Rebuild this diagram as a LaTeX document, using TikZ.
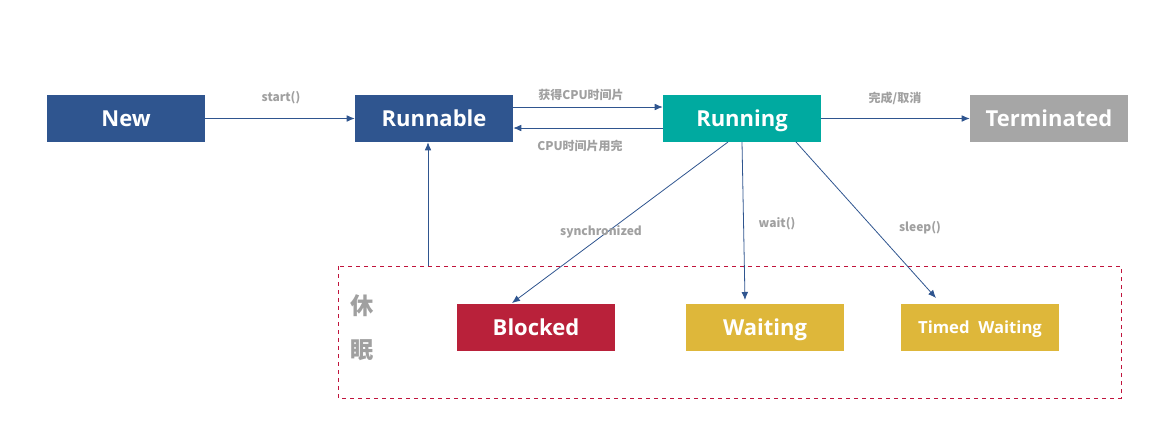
\documentclass[tikz,border=0pt]{standalone}
\usepackage{fontspec}
\setmainfont{Open Sans}
\newfontfamily\cjk{Noto Sans CJK SC}
\usetikzlibrary{arrows.meta}
\definecolor{stblue}{RGB}{47,85,143}
\definecolor{stteal}{RGB}{0,170,160}
\definecolor{stgray}{RGB}{166,166,166}
\definecolor{stred}{RGB}{185,33,58}
\definecolor{styellow}{RGB}{222,183,58}
\definecolor{lblgray}{RGB}{160,160,160}
\definecolor{dashred}{RGB}{192,20,60}
\begin{document}
\begin{tikzpicture}[x=0.75pt,y=-0.75pt,
  state/.style={fill=#1,text=white,font=\bfseries\fontsize{16.5}{18}\selectfont,
    minimum width=118.5pt,minimum height=35.25pt,inner sep=0pt,
    text height=11.5pt,text depth=0pt},
  lbl/.style={text=lblgray,font=\cjk\bfseries\fontsize{9}{10}\selectfont,inner sep=0pt},
  flow/.style={draw=stblue,line width=0.6pt,-{Latex[length=6pt,width=5pt]}}]
\useasboundingbox (0,0) rectangle (1163,426);

% states
\node[state=stblue]   (new)  at (126,118.5) {New};
\node[state=stblue]   (runnable) at (434,118.5) {Runnable};
\node[state=stteal]   (running)  at (742,118.5) {Running};
\node[state=stgray]   (term) at (1049,118.5) {Terminated};
\node[state=stred]    (blocked)  at (536,327.5) {Blocked};
\node[state=styellow] (waiting)  at (765,327.5) {Waiting};
\node[state=styellow,font=\bfseries\fontsize{12.5}{14}\selectfont,text height=8.9pt] (timed) at (980,327.5) {Timed\ \ Waiting};

% sleep region
\draw[dashred,dashed,line width=0.6pt] (338,266) rectangle (1121,398);
\coordinate (sleeptop) at (428,266);
\node[text=lblgray,font=\cjk\bfseries\fontsize{17.5}{18}\selectfont] (xiu) at (362,306) {休};
\node[text=lblgray,font=\cjk\bfseries\fontsize{17.5}{18}\selectfont] (mian) at (362,350) {眠};

% transitions
\draw[flow] (new.east) -- (runnable.west);
\draw[flow] (runnable.east |- 0,107) -- (running.west |- 0,107);
\draw[flow] (running.west |- 0,128) -- (runnable.east |- 0,128);
\draw[flow] (running.east) -- (term.west);
\draw[flow] (sleeptop) -- (runnable.south -| sleeptop);
\draw[flow] (728,142) -- (512,303);
\draw[flow] (742,142) -- (745,300);
\draw[flow] (796,142) -- (936,298);

% labels
\node[lbl] (lstart) at (281,98) {start()};
\node[lbl] (lget)   at (581,95) {获得CPU时间片};
\node[lbl] (lend)   at (580,146) {CPU时间片用完};
\node[lbl] (ldone)  at (895,98) {完成/取消};
\node[lbl] (lsync)  at (601,232) {synchronized};
\node[lbl] (lwait)  at (777,224) {wait()};
\node[lbl] (lsleep) at (920,228) {sleep()};
\end{tikzpicture}
\end{document}
